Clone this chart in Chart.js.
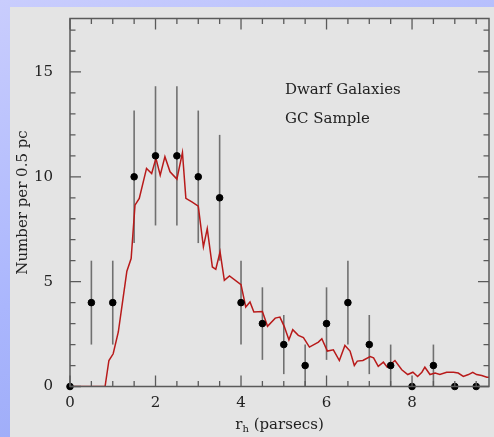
<!DOCTYPE html>
<html>
<head>
<meta charset="utf-8">
<script src="https://cdn.jsdelivr.net/npm/chart.js@4"></script>
<style>
  html, body { margin: 0; padding: 0; }
  body {
    width: 494px; height: 437px; overflow: hidden;
    background: linear-gradient(160deg, #c9cdfd 0%, #aab6fd 50%, #93a3f3 100%);
  }
  #panel {
    position: absolute; left: 10px; top: 7px; width: 484px; height: 430px;
    background: #e4e4e4;
  }
</style>
</head>
<body>
<div id="panel"><canvas id="myChart" width="484" height="430"></canvas></div>
<script>
// measured counts per 0.5 pc bin, with poisson errors
var binX   = [0, 0.5, 1, 1.5, 2, 2.5, 3, 3.5, 4, 4.5, 5, 5.5, 6, 6.5, 7, 7.5, 8, 8.5, 9, 9.5];
var counts = [0, 4, 4, 10, 11, 11, 10, 9, 4, 3, 2, 1, 3, 4, 2, 1, 0, 1, 0, 0];
var errs   = [0, 2, 2, 3.16, 3.32, 3.32, 3.16, 3, 2, 1.73, 1.41, 1, 1.73, 2, 1.41, 1, 0, 1, 0, 0];

// model distribution (red curve)
var modelX = [0, 0.82, 0.91, 1.01, 1.13, 1.22, 1.33, 1.43, 1.52, 1.62, 1.79, 1.91, 2.01, 2.11, 2.22, 2.34,
  2.5, 2.63, 2.71, 2.85, 3.0, 3.12, 3.21, 3.33, 3.41, 3.51, 3.61, 3.73, 4.0, 4.11, 4.21, 4.3, 4.5, 4.62,
  4.8, 4.91, 5.01, 5.12, 5.21, 5.34, 5.46, 5.6, 5.81, 5.89, 6.02, 6.16, 6.3, 6.43, 6.55, 6.65, 6.72, 6.85,
  7.02, 7.1, 7.21, 7.33, 7.42, 7.6, 7.76, 7.9, 8.02, 8.13, 8.23, 8.3, 8.42, 8.54, 8.65, 8.81, 8.97, 9.08,
  9.2, 9.32, 9.42, 9.51, 9.63, 9.75, 9.82];
var modelY = [0, 0, 1.24, 1.56, 2.6, 3.9, 5.5, 6.1, 8.65, 8.97, 10.4, 10.16, 10.88, 10.08, 10.96, 10.24,
  9.89, 11.16, 8.97, 8.8, 8.6, 6.66, 7.53, 5.7, 5.59, 6.42, 5.06, 5.27, 4.86, 3.79, 4.03, 3.55, 3.58, 2.87,
  3.26, 3.31, 2.87, 2.23, 2.71, 2.44, 2.33, 1.88, 2.12, 2.28, 1.69, 1.75, 1.24, 1.96, 1.69, 1.0, 1.21, 1.24,
  1.43, 1.37, 0.96, 1.16, 0.92, 1.24, 0.8, 0.57, 0.68, 0.48, 0.68, 0.92, 0.57, 0.64, 0.57, 0.68, 0.68, 0.64,
  0.48, 0.57, 0.68, 0.57, 0.52, 0.44, 0.44];

var xMajor = [0, 2, 4, 6, 8];
var yMajor = [0, 5, 10, 15];
var xMinorStep = 0.5, yMinorStep = 1;
var xMax = 9.8, yMax = 17.55;

var serif = "'DejaVu Serif', serif";
var pts = [], model = [];
for (var i = 0; i < binX.length; i++) pts.push({x: binX[i], y: counts[i]});
for (var i = 0; i < modelX.length; i++) model.push({x: modelX[i], y: modelY[i]});

// gray error bars under the points
var errorBars = {
  id: 'errorBars',
  beforeDatasetsDraw: function(chart) {
    var c = chart.ctx, xs = chart.scales.x, ys = chart.scales.y;
    c.save();
    c.strokeStyle = '#707070';
    c.lineWidth = 1.6;
    for (var i = 0; i < binX.length; i++) {
      if (!errs[i]) continue;
      var px = xs.getPixelForValue(binX[i]);
      c.beginPath();
      c.moveTo(px, ys.getPixelForValue(counts[i] - errs[i]));
      c.lineTo(px, ys.getPixelForValue(counts[i] + errs[i]));
      c.stroke();
    }
    c.restore();
  }
};

// box with inward ticks on all four sides, plus text labels
var frame = {
  id: 'frame',
  afterDatasetsDraw: function(chart) {
    var c = chart.ctx, a = chart.chartArea, xs = chart.scales.x, ys = chart.scales.y;
    c.save();
    c.strokeStyle = '#5a5a5a';
    c.lineWidth = 1.5;
    c.strokeRect(a.left, a.top, a.right - a.left, a.bottom - a.top);
    c.lineWidth = 1.3;
    c.beginPath();
    for (var v = 0; v <= xMax + 1e-9; v += xMinorStep) {
      var len = xMajor.indexOf(v) >= 0 ? 11 : 5.5;
      var px = xs.getPixelForValue(v);
      c.moveTo(px, a.bottom); c.lineTo(px, a.bottom - len);
      c.moveTo(px, a.top); c.lineTo(px, a.top + len);
    }
    for (var v = 0; v <= yMax + 1e-9; v += yMinorStep) {
      var len = yMajor.indexOf(v) >= 0 ? 11 : 5.5;
      var py = ys.getPixelForValue(v);
      c.moveTo(a.left, py); c.lineTo(a.left + len, py);
      c.moveTo(a.right, py); c.lineTo(a.right - len, py);
    }
    c.stroke();

    c.fillStyle = '#222';
    c.font = '15px ' + serif;
    c.textBaseline = 'alphabetic';
    c.fillText('Dwarf Galaxies', 275, 87);
    c.fillText('GC Sample', 275, 116);

    // x axis title with subscript h
    var cx = (a.left + a.right) / 2;
    var main = ' (parsecs)';
    c.font = '15px ' + serif;
    var wr = c.measureText('r').width, wm = c.measureText(main).width;
    c.font = '10px ' + serif;
    var wh = c.measureText('h').width;
    var x0 = cx - (wr + wh + wm) / 2;
    c.font = '15px ' + serif;
    c.fillText('r', x0, 422);
    c.font = '10px ' + serif;
    c.fillText('h', x0 + wr, 425);
    c.font = '15px ' + serif;
    c.fillText(main, x0 + wr + wh, 422);
    c.restore();
  }
};

// drop the extra room chart.js keeps for edge tick labels
function noEdgePad(s) {
  s.paddingTop = 0; s.paddingBottom = 0; s.paddingLeft = 0; s.paddingRight = 0;
}

new Chart('myChart', {
  type: 'scatter',
  data: {
    datasets: [{
      data: pts,
      backgroundColor: '#000',
      borderColor: '#000',
      pointRadius: 3.3,
      clip: false
    }, {
      data: model,
      showLine: true,
      borderColor: '#b81a1a',
      borderWidth: 1.5,
      pointRadius: 0,
      tension: 0
    }]
  },
  options: {
    responsive: false,
    animation: false,
    layout: {padding: {left: 0, top: 11.5, right: 4.5, bottom: 0}},
    plugins: {legend: {display: false}, tooltip: {enabled: false}},
    scales: {
      x: {
        min: 0, max: xMax,
        grid: {display: false}, border: {display: false},
        afterFit: function(s) { s.height = 50.5; noEdgePad(s); },
        afterBuildTicks: function(s) { s.ticks = xMajor.map(function(v) { return {value: v}; }); },
        ticks: {padding: 0, color: '#222', font: {family: serif, size: 15}, maxRotation: 0}
      },
      y: {
        min: 0, max: yMax,
        grid: {display: false}, border: {display: false},
        afterFit: function(s) { s.width = 60; noEdgePad(s); },
        afterBuildTicks: function(s) { s.ticks = yMajor.map(function(v) { return {value: v}; }); },
        ticks: {padding: 9, color: '#222', font: {family: serif, size: 15}},
        title: {
          display: true, text: 'Number per 0.5 pc', color: '#222',
          font: {family: serif, size: 15}, padding: {top: 4, bottom: 0}
        }
      }
    }
  },
  plugins: [errorBars, frame]
});
</script>
</body>
</html>
